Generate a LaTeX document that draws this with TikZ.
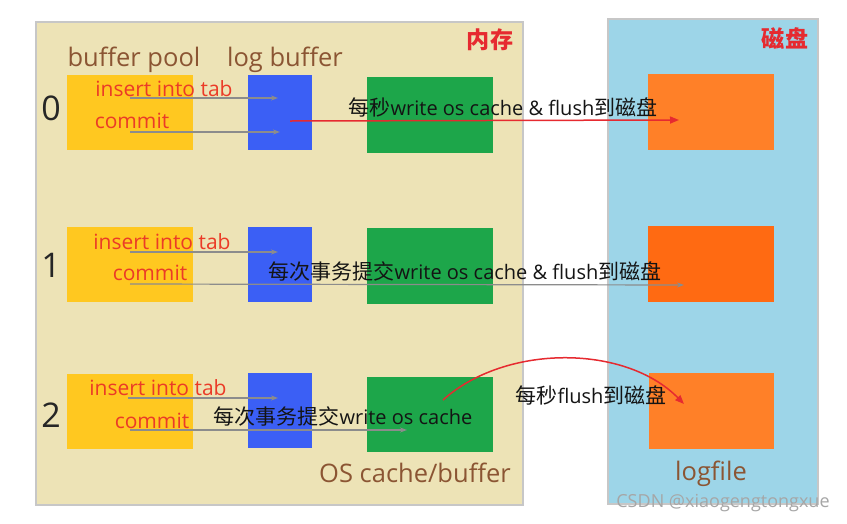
\documentclass[tikz,border=0pt]{standalone}
\usepackage{fontspec}
\setmainfont{Open Sans}
\newfontfamily\cjk[Scale=1.05]{Noto Sans CJK SC}
\usetikzlibrary{arrows.meta}
\definecolor{beige}{HTML}{EDE3B6}
\definecolor{skyb}{HTML}{9DD5E8}
\definecolor{yel}{HTML}{FFC820}
\definecolor{blu}{HTML}{3B5FF5}
\definecolor{grn}{HTML}{1DA64A}
\definecolor{orA}{HTML}{FF8028}
\definecolor{orB}{HTML}{FF6A12}
\definecolor{redt}{HTML}{E62A30}
\definecolor{brn}{HTML}{8B5533}
\definecolor{gar}{HTML}{8C8C8C}
\begin{document}
\begin{tikzpicture}[x=1pt,y=-1pt,
  panel/.style={draw=black!22, line width=1.5pt, anchor=north west, inner sep=0pt},
  blk/.style={anchor=north west, inner sep=0pt},
  brtext/.style={text=brn, font=\fontsize{25.5}{26}\selectfont, inner sep=0pt},
  redtext/.style={text=redt, font=\cjk\bfseries\fontsize{22}{22}\selectfont, inner sep=0pt},
  optext/.style={text=redt!80!orange, font=\fontsize{21}{21}\selectfont, inner sep=0pt},
  numtext/.style={text=black!85, font=\fontsize{34}{34}\selectfont, inner sep=0pt},
  lbl/.style={text=black!92, font=\fontsize{20}{20}\selectfont, inner sep=0pt},
  garrow/.style={draw=gar, line width=1.2pt, -{Stealth[length=7pt,width=5pt]}},
  rarrow/.style={draw=redt, line width=1.5pt, -{Triangle[length=9pt,width=7pt]}}
]
\useasboundingbox[fill=white] (0,0) rectangle (847,523);
% panels
\node[panel, fill=beige, minimum width=487pt, minimum height=483pt] (mem) at (35,21) {};
\node[panel, fill=skyb, minimum width=210pt, minimum height=485pt] (disk) at (607,18) {};
\node[redtext] (memt) at (490,40) {内存};
\node[redtext] (diskt) at (785,38) {磁盘};
\node[brtext] (bpt) at (134,60) {buffer pool};
\node[brtext] (lbt) at (285,60) {log buffer};
% row 0
\node[blk, fill=yel, minimum width=126pt, minimum height=75pt] (y0) at (67,75) {};
\node[blk, fill=blu, minimum width=64pt, minimum height=75pt] (b0) at (248,75) {};
\node[blk, fill=grn, minimum width=126pt, minimum height=76pt] (g0) at (367,77) {};
\node[blk, fill=orA, minimum width=126pt, minimum height=76pt] (o0) at (648,74) {};
% row 1
\node[blk, fill=yel, minimum width=126pt, minimum height=75pt] (y1) at (67,227) {};
\node[blk, fill=blu, minimum width=64pt, minimum height=75pt] (b1) at (248,227) {};
\node[blk, fill=grn, minimum width=126pt, minimum height=76pt] (g1) at (367,228) {};
\node[blk, fill=orB, minimum width=126pt, minimum height=76pt] (o1) at (648,226) {};
% row 2
\node[blk, fill=yel, minimum width=126pt, minimum height=75pt] (y2) at (67,374) {};
\node[blk, fill=blu, minimum width=64pt, minimum height=75pt] (b2) at (248,373) {};
\node[blk, fill=grn, minimum width=126pt, minimum height=75pt] (g2) at (367,377) {};
\node[blk, fill=orA, minimum width=125pt, minimum height=76pt] (o2) at (649,373) {};
% numbers
\node[numtext] (n0) at (51,108) {0};
\node[numtext] (n1) at (51,265) {1};
\node[numtext] (n2) at (51,415) {2};
% op texts
\node[optext] (i0) at (164,89) {insert into tab};
\node[optext] (c0) at (132,121) {commit};
\node[optext] (i1) at (162,242) {insert into tab};
\node[optext] (c1) at (150,273) {commit};
\node[optext] (i2) at (158,388) {insert into tab};
\node[optext] (c2) at (152,421) {commit};
% bottom labels
\node[brtext] (osc) at (415,473) {OS cache/buffer};
\node[brtext] (lf) at (711,474) {logfile};
% arrow end points
\coordinate (a0s) at (130,98);  \coordinate (a0e) at (278,98);
\coordinate (c0s) at (130,132); \coordinate (c0e) at (280,132);
\coordinate (r0s) at (290,121); \coordinate (r0e) at (679,120);
\coordinate (a1s) at (130,252); \coordinate (a1e) at (278,252);
\coordinate (c1s) at (130,284); \coordinate (c1e) at (684,285);
\coordinate (a2s) at (128,398); \coordinate (a2e) at (278,398);
\coordinate (c2s) at (130,430); \coordinate (c2e) at (407,430);
\coordinate (r2s) at (443,400); \coordinate (r2e) at (684,404);
% arrows
\draw[garrow] (a0s) -- (a0e);
\draw[garrow] (c0s) -- (c0e);
\draw[rarrow] (r0s) -- (r0e);
\draw[garrow] (a1s) -- (a1e);
\draw[garrow] (c1s) -- (c1e);
\draw[garrow] (a2s) -- (a2e);
\draw[garrow] (c2s) -- (c2e);
\draw[rarrow] (r2s) .. controls (505,344) and (625,344) .. (r2e);
% arrow labels
\node[lbl] (l0) at (503,107) {{\cjk 每秒}write os cache \& flush{\cjk 到磁盘}};
\node[lbl] (l1) at (465,271) {{\cjk 每次事务提交}write os cache \& flush{\cjk 到磁盘}};
\node[lbl] (l2) at (343,416) {{\cjk 每次事务提交}write os cache};
\node[lbl] (l3) at (591,395) {{\cjk 每秒}flush{\cjk 到磁盘}};
% watermark
\node[text=black!35, font=\fontsize{18}{18}\selectfont, inner sep=0pt] (wm) at (723,503) {CSDN @xiaogengtongxue};
\end{tikzpicture}
\end{document}
